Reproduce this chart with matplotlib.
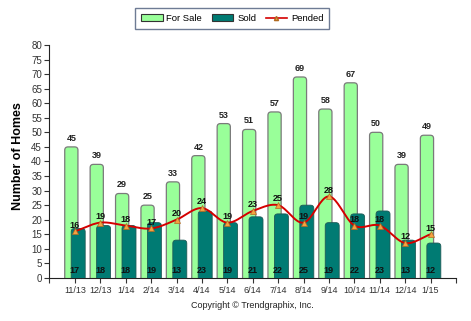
import numpy as np
from matplotlib import pyplot as plt
from matplotlib.lines import Line2D
from matplotlib.patches import Patch, FancyBboxPatch

months = ["11/13", "12/13", "1/14", "2/14", "3/14", "4/14", "5/14", "6/14",
          "7/14", "8/14", "9/14", "10/14", "11/14", "12/14", "1/15"]
for_sale = [45, 39, 29, 25, 33, 42, 53, 51, 57, 69, 58, 67, 50, 39, 49]
sold = [17, 18, 18, 19, 13, 23, 19, 21, 22, 25, 19, 22, 23, 13, 12]
pended = [16, 19, 18, 17, 20, 24, 19, 23, 25, 19, 28, 18, 18, 12, 15]

GREEN = "#99ff99"
TEAL = "#007b73"
RED = "#d40000"

plt.rcParams['font.family'] = ['Liberation Sans', 'DejaVu Sans']


def smooth(x, y, n=20):
	# catmull-rom through the points, just for the look of the line
	x = np.asarray(x, float)
	y = np.asarray(y, float)
	px = np.concatenate([[2 * x[0] - x[1]], x, [2 * x[-1] - x[-2]]])
	py = np.concatenate([[2 * y[0] - y[1]], y, [2 * y[-1] - y[-2]]])
	xs, ys = [], []
	t = np.linspace(0, 1, n, endpoint=False)
	for i in range(1, len(px) - 2):
		for p, out in ((px, xs), (py, ys)):
			p0, p1, p2, p3 = p[i - 1], p[i], p[i + 1], p[i + 2]
			out.extend(0.5 * (2 * p1 + (-p0 + p2) * t
							  + (2 * p0 - 5 * p1 + 4 * p2 - p3) * t ** 2
							  + (-p0 + 3 * p1 - 3 * p2 + p3) * t ** 3))
	xs.append(x[-1])
	ys.append(y[-1])
	return np.array(xs), np.array(ys)


def round_tops(ax, bars, **kw):
	# swap the plain rectangles for rounded ones (bottom hidden below the axis)
	for r in bars:
		x0, w, h = r.get_x(), r.get_width(), r.get_height()
		r.set_visible(False)
		p = FancyBboxPatch((x0, -2), w, h + 2, boxstyle="round,pad=0,rounding_size=0.13",
						   mutation_aspect=8.7, **kw)
		ax.add_patch(p)


fig = plt.figure(figsize=(4.71, 3.21), dpi=100)
ax = fig.add_axes([0.104, 0.134, 0.864, 0.726])

x = np.arange(len(months))
b1 = ax.bar(x - 0.14, for_sale, width=0.52)
round_tops(ax, b1, facecolor=GREEN, edgecolor="#7a7a7a", lw=0.9, zorder=2)
b2 = ax.bar(x + 0.13, sold, width=0.55)
round_tops(ax, b2, facecolor=TEAL, edgecolor="#1e5a56", lw=0.6, zorder=3)

sx, sy = smooth(x, pended)
ax.plot(sx, sy, color=RED, lw=1.4, zorder=4)
ax.plot(x, pended, ls="none", marker="^", ms=5, mfc="#f5a142", mec="#b06a20", mew=0.5, zorder=5)

for i in x:
	ax.text(i - 0.14, for_sale[i] + 1.4, str(for_sale[i]), ha="center", va="bottom",
			fontsize=6.5, fontweight="bold", color="#222222")
	ax.text(i, 1.0, str(sold[i]), ha="center", va="bottom",
			fontsize=6.5, fontweight="bold", color="#111111", zorder=6)
	ax.text(i, pended[i] + 0.6, str(pended[i]), ha="center", va="bottom",
			fontsize=6.5, fontweight="bold", color="#111111", zorder=6)

ax.set_xlim(-1.02, 15.0)
ax.set_ylim(0, 80)
ax.set_yticks(np.arange(0, 81, 5))
ax.set_xticks(x)
ax.set_xticklabels(months)
ax.set_xticks([-1.02, 15.0], minor=True)
ax.tick_params(axis="both", which="both", labelsize=7, colors="#333333", length=3.5, width=0.8)
ax.tick_params(axis="x", labelsize=6.5, pad=2)
ax.tick_params(axis="y", pad=1.5)
for s in ("top", "right"):
	ax.spines[s].set_visible(False)
for s in ("left", "bottom"):
	ax.spines[s].set_color("#222222")
ax.set_ylabel("Number of Homes", fontsize=9, fontweight="bold")
ax.yaxis.set_label_coords(-0.061, 0.524)

handles = [Patch(facecolor=GREEN, edgecolor="#333333", lw=0.8),
		   Patch(facecolor=TEAL, edgecolor="#333333", lw=0.8),
		   Line2D([], [], color=RED, lw=1.2, marker="^", ms=3, mfc="#f5a142", mec="#b06a20")]
leg = fig.legend(handles, ["For Sale", "Sold", "Pended"], loc="center", bbox_to_anchor=(0.493, 0.942),
				 ncol=3, fontsize=6.8, frameon=True, fancybox=False, shadow=False,
				 handlelength=2.3, handleheight=0.8, columnspacing=1.0, handletextpad=0.4,
				 borderpad=0.6, borderaxespad=0)
leg.get_frame().set_edgecolor("#4a5a7a")
leg.get_frame().set_linewidth(1.0)

fig.text(0.535, 0.047, "Copyright \u00a9 Trendgraphix, Inc.", ha="center", va="center",
		 fontsize=6.5, color="#222222")

fig.savefig("out.png", dpi=100)
